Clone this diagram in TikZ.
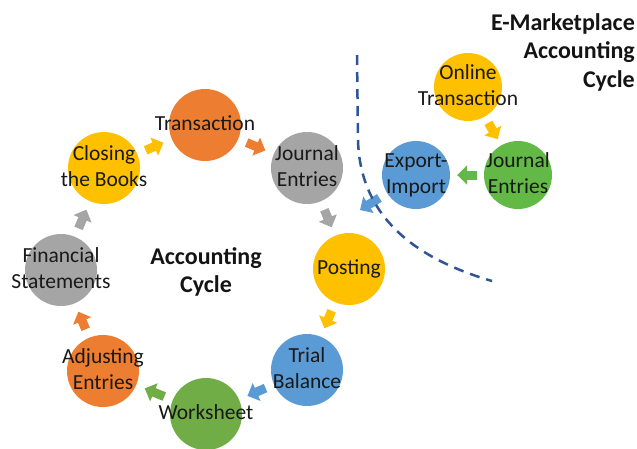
\documentclass[tikz,border=0pt]{standalone}
\usepackage{fontspec}
\setmainfont{Carlito}
\usetikzlibrary{arrows.meta}
\definecolor{accorange}{HTML}{ED7D31}
\definecolor{accgrey}{HTML}{A5A5A5}
\definecolor{accyellow}{HTML}{FFC000}
\definecolor{accblue}{HTML}{5B9BD5}
\definecolor{accgreen}{HTML}{70AD47}
\definecolor{emgreen}{HTML}{63B946}
\definecolor{accdash}{HTML}{2F5597}
\newcommand{\lbl}[1]{\makebox[0pt]{\begin{tabular}{@{}c@{}}#1\end{tabular}}}

\begin{document}
\begin{tikzpicture}[x=1pt,y=-1pt,
    stage/.style={circle,fill=#1,minimum size=72pt,inner sep=0pt,text=black!90,font=\fontsize{21.5}{26.5}\selectfont},
    smallstage/.style={stage=#1,minimum size=68pt},
    flow/.style={draw=#1,line width=9pt,-{Triangle[length=10pt,width=19pt]},shorten <=9pt,shorten >=9pt},
    smallflow/.style={flow=#1,shorten <=7pt,shorten >=7pt},
    title/.style={font=\bfseries\fontsize{24}{28.5}\selectfont,text=black!92,inner sep=0pt}]

\useasboundingbox (0,0) rectangle (637,448);

% accounting cycle
\node[stage=accorange] (trans)   at (205,125) {\lbl{Transaction}};
\node[stage=accgrey]   (journal) at (307,168) {\lbl{Journal\\Entries}};
\node[stage=accyellow] (posting) at (349,269) {\lbl{Posting}};
\node[stage=accblue]   (trial)   at (307,370) {\lbl{Trial\\Balance}};
\node[stage=accgreen]  (work)    at (206,414) {\lbl{Worksheet}};
\node[stage=accorange] (adjust)  at (103,371) {\lbl{Adjusting\\Entries}};
\node[stage=accgrey]   (fin)     at (61,270)  {\lbl{Financial\\Statements}};
\node[stage=accyellow] (closing) at (104,168) {\lbl{Closing\\the Books}};

\draw[flow=accyellow] (closing) -- (trans);
\draw[flow=accorange] (trans) -- (journal);
\draw[flow=accgrey]   (journal) -- (posting);
\draw[flow=accyellow] (posting) -- (trial);
\draw[flow=accblue]   (trial) -- (work);
\draw[flow=accgreen]  (work) -- (adjust);
\draw[flow=accorange] (adjust) -- (fin);
\draw[flow=accgrey]   (fin) -- (closing);

% e-marketplace cycle
\node[smallstage=accyellow] (online)   at (468,87)  {\lbl{Online\\Transaction}};
\node[smallstage=emgreen]   (ejournal) at (518,175) {\lbl{Journal\\Entries}};
\node[smallstage=accblue]   (export)   at (416,175) {\lbl{Export-\\Import}};
\coordinate (exportin) at (360,210);

\draw[smallflow=accyellow] (online) -- (ejournal);
\draw[smallflow=emgreen]   (ejournal) -- (export);
\draw[flow=accblue,shorten >=0pt] (export) -- (exportin);

\draw[accdash,line width=2.5pt,dash pattern=on 10pt off 7pt]
  (357,55) -- (358,140) .. controls (360,220) and (420,260) .. (492,281);

\node[title,align=center] (acctitle) at (206,272) {Accounting\\Cycle};
\node[title,align=right,anchor=north east] (emtitle) at (635,13) {E-Marketplace\\Accounting\\Cycle};
\end{tikzpicture}
\end{document}
